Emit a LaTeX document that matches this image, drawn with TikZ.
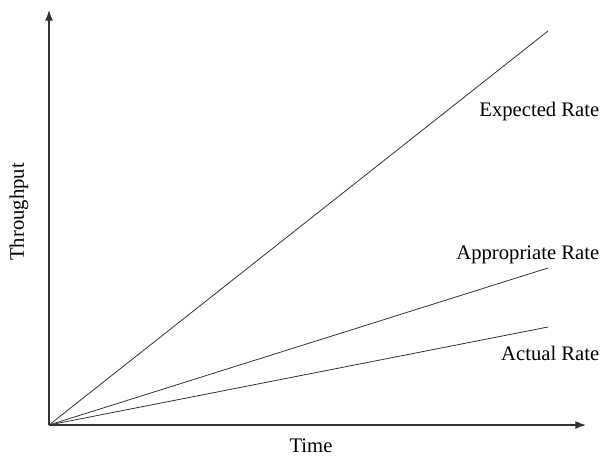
\documentclass[tikz,border=0pt]{standalone}
\usepackage{fontspec}
\setmainfont{Liberation Serif}
\usetikzlibrary{arrows.meta}
\begin{document}
\begin{tikzpicture}[x = 0.75pt, y = -0.75pt, font = \fontsize{15.5}{18}\selectfont]
    \useasboundingbox (0, 0) rectangle (606, 457);
    \tikzset{axis/.style = {line width = 1pt, draw = black!80, -{Latex[length = 8pt, width = 6pt]}},
             rate/.style = {line width = 0.6pt, draw = black!80}}

    \coordinate (o) at (49, 425);
    \coordinate (ytip) at (49, 10);
    \coordinate (xtip) at (586, 425);
    \coordinate (expected) at (548, 31); % steepest
    \coordinate (appropriate) at (548, 268);
    \coordinate (actual) at (548, 327);

    \draw [axis] (o) -- (ytip);
    \draw [axis] (o) -- (xtip);
    \draw [rate] (o) -- (expected);
    \draw [rate] (o) -- (appropriate);
    \draw [rate] (o) -- (actual);

    \node [anchor = base east] (expectedlabel) at (604, 116) {Expected Rate};
    \node [anchor = base east] (appropriatelabel) at (604, 259) {Appropriate Rate};
    \node [anchor = base east] (actuallabel) at (604, 360) {Actual Rate};
    \node [anchor = base] (timelabel) at (311, 452) {Time};
    \node [rotate = 90] (throughputlabel) at (19, 212) {Throughput};
\end{tikzpicture}
\end{document}
